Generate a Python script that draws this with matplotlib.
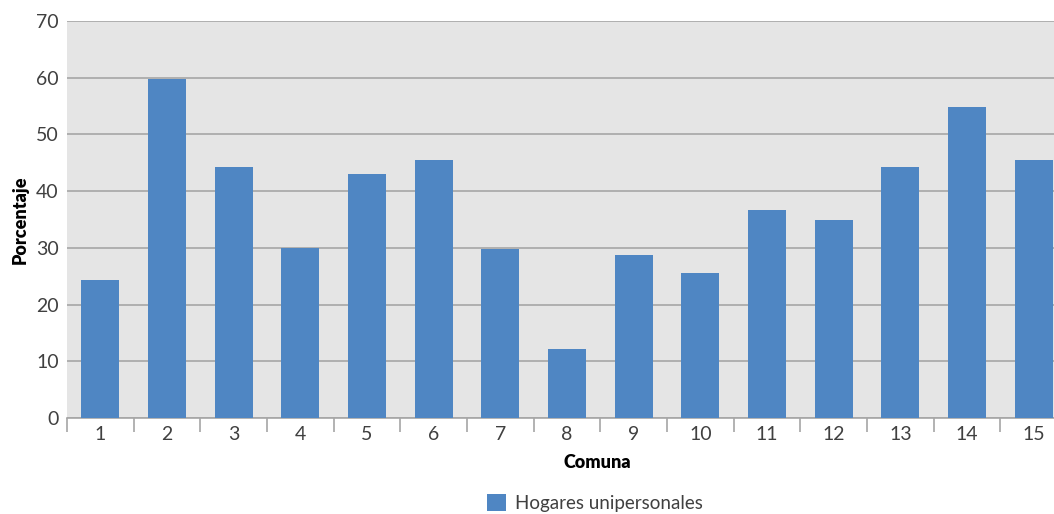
import numpy as np
import matplotlib
matplotlib.use('Agg')
import matplotlib.pyplot as plt
from matplotlib.patches import Patch

comunas = ['1', '2', '3', '4', '5', '6', '7', '8', '9', '10', '11', '12', '13', '14', '15']
hogares = [24.3, 59.7, 44.3, 30.0, 43.0, 45.5, 29.8, 12.2, 28.7, 25.6, 36.7, 34.9, 44.3, 54.9, 45.5]

bar_color = '#4f86c3'
text_color = '#404040'

plt.rcParams['font.family'] = ['Lato', 'DejaVu Sans']

fig = plt.figure(figsize=(10.54, 5.14), dpi=100)
# the plot area runs past the right edge, as in the original
ax = fig.add_axes([67/1054, 96/514, 1000/1054, 397/514])
ax.set_facecolor('#e5e5e5')

x = np.arange(len(comunas))
ax.bar(x, hogares, width=0.57, color=bar_color, zorder=3)

ax.set_xlim(-0.5, len(comunas) - 0.5)
ax.set_ylim(0, 70)
ax.set_yticks(range(0, 71, 10))
ax.yaxis.grid(True, color='#a6a6a6', linewidth=1.2, zorder=1)
ax.tick_params(axis='y', length=0, labelsize=14, labelcolor=text_color, pad=6)

ax.set_xticks(x)
ax.set_xticklabels(comunas)
ax.set_xticks(np.arange(-0.5, len(comunas)), minor=True)
ax.tick_params(axis='x', which='major', length=0, labelsize=14, labelcolor=text_color, pad=6)
ax.tick_params(axis='x', which='minor', length=10, color='#a6a6a6', width=1.2)

for s in ['top', 'right', 'left']:
  ax.spines[s].set_visible(False)
ax.spines['bottom'].set_color('#a6a6a6')
ax.spines['bottom'].set_linewidth(1.2)

ax.set_ylabel('Porcentaje', fontsize=13, fontweight='heavy', color='black', labelpad=5)
fig.text(597/1054, 1 - 463/514, 'Comuna', fontsize=13, fontweight='heavy',
         ha='center', va='center')

handle = Patch(facecolor=bar_color, edgecolor='none')
fig.legend([handle], ['Hogares unipersonales'], loc='center',
           bbox_to_anchor=(595/1054, 1 - 503/514), frameon=False,
           fontsize=13.5, handlelength=1.0, handleheight=1.0,
           handletextpad=0.5, labelcolor=text_color)

fig.savefig('out.png', dpi=100)
